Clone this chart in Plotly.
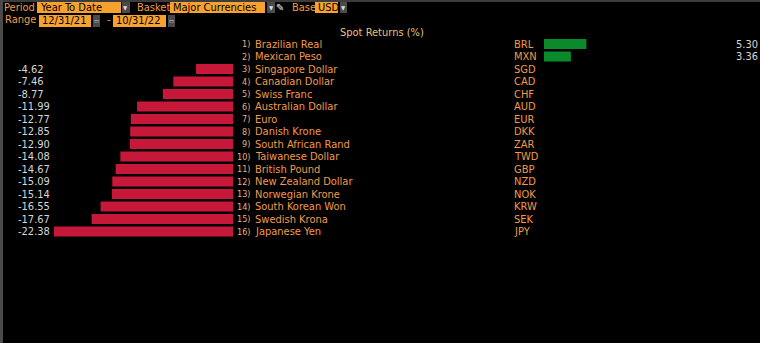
import plotly.graph_objects as go

# Year-to-date spot returns vs USD (%), ranked
ranks = list(range(1, 17))
names = ["Brazilian Real", "Mexican Peso", "Singapore Dollar", "Canadian Dollar",
         "Swiss Franc", "Australian Dollar", "Euro", "Danish Krone",
         "South African Rand", "Taiwanese Dollar", "British Pound",
         "New Zealand Dollar", "Norwegian Krone", "South Korean Won",
         "Swedish Krona", "Japanese Yen"]
codes = ["BRL", "MXN", "SGD", "CAD", "CHF", "AUD", "EUR", "DKK",
         "ZAR", "TWD", "GBP", "NZD", "NOK", "KRW", "SEK", "JPY"]
returns = [5.30, 3.36, -4.62, -7.46, -8.77, -11.99, -12.77, -12.85,
           -12.90, -14.08, -14.67, -15.09, -15.14, -16.55, -17.67, -22.38]

W, H = 760, 343
ORANGE = "#f29a48"
AMBER = "#f7a12f"
RED = "#c8183a"
GREEN = "#0b8a2c"
FONT = "Liberation Sans Narrow, DejaVu Sans Condensed, Arial Narrow, sans-serif"

PX_PER_UNIT = 8.0      # horizontal scale shared by both bar panels
NEG_ZERO = 233         # pixel column of the zero line for losses
POS_ZERO = 544         # pixel column of the zero line for gains
ROW0, ROW_STEP = 44, 12.5


def px(x):
    return x / W


def py(y):
    return 1 - y / H


neg_r = [r for r, v in zip(ranks, returns) if v < 0]
neg_v = [v for v in returns if v < 0]
pos_r = [r for r, v in zip(ranks, returns) if v >= 0]
pos_v = [v for v in returns if v >= 0]

fig = go.Figure()
fig.add_trace(go.Bar(x=neg_v, y=neg_r, orientation="h", width=0.8,
                     marker=dict(color=RED, line=dict(width=0)),
                     xaxis="x", yaxis="y", hoverinfo="skip"))
fig.add_trace(go.Bar(x=pos_v, y=pos_r, orientation="h", width=0.8,
                     marker=dict(color=GREEN, line=dict(width=0)),
                     xaxis="x2", yaxis="y", hoverinfo="skip"))

ann = []
row_font = dict(family=FONT, size=11, color=ORANGE)
for r, n, c, v in zip(ranks, names, codes, returns):
    ann.append(dict(x=px(252), y=r, xref="paper", yref="y", text=f"{r})",
                    xanchor="right", yanchor="middle", showarrow=False,
                    font=dict(family=FONT, size=9, color="#e0b080")))
    ann.append(dict(x=px(253), y=r, xref="paper", yref="y", text=n,
                    xanchor="left", yanchor="middle", showarrow=False, font=row_font))
    ann.append(dict(x=px(512), y=r, xref="paper", yref="y", text=c,
                    xanchor="left", yanchor="middle", showarrow=False, font=row_font))
    if v < 0:
        vx, anchor = px(16), "left"
    else:
        vx, anchor = px(760), "right"
    ann.append(dict(x=vx, y=r, xref="paper", yref="y", text=f"{v:.2f}",
                    xanchor=anchor, yanchor="middle", showarrow=False,
                    font=dict(family=FONT, size=11, color="#d6d6d6")))

ann.append(dict(x=px(382), y=py(32), xref="paper", yref="paper",
                text="Spot Returns (%)", xanchor="center", yanchor="middle",
                showarrow=False, font=dict(family=FONT, size=11, color="#e9c27a")))

# Header controls
shapes = []
hdr_font = dict(family=FONT, size=11, color=ORANGE)
box_font = dict(family=FONT, size=11, color="#000000")


def label(x, y, t):
    ann.append(dict(x=px(x), y=py(y), xref="paper", yref="paper", text=t,
                    xanchor="left", yanchor="middle", showarrow=False, font=hdr_font))


def field(x0, x1, y0, y1, t):
    shapes.append(dict(type="rect", xref="paper", yref="paper", x0=px(x0), x1=px(x1),
                       y0=py(y1), y1=py(y0), fillcolor=AMBER, line=dict(width=0), layer="below"))
    ann.append(dict(x=px(x0 + 1), y=py((y0 + y1) / 2), xref="paper", yref="paper", text=t,
                    xanchor="left", yanchor="middle", showarrow=False, font=box_font))


def button(x0, x1, y0, y1, t):
    shapes.append(dict(type="rect", xref="paper", yref="paper", x0=px(x0), x1=px(x1),
                       y0=py(y1), y1=py(y0), fillcolor="#4a4a4a", line=dict(width=0), layer="below"))
    ann.append(dict(x=px((x0 + x1) / 2), y=py((y0 + y1) / 2), xref="paper", yref="paper", text=t,
                    xanchor="center", yanchor="middle", showarrow=False,
                    font=dict(family=FONT, size=6, color="#dddddd")))


label(2, 7, "Period")
field(37, 121, 1, 13, "Year To Date")
button(122, 130, 1, 13, "▼")
label(135, 7, "Basket")
field(170, 265, 1, 13, "Major Currencies")
button(267, 275, 1, 13, "▼")
ann.append(dict(x=px(280), y=py(7), xref="paper", yref="paper", text="✎",
                xanchor="center", yanchor="middle", showarrow=False,
                font=dict(family="DejaVu Sans", size=10, color="#e8e8e8")))
label(290, 7, "Base")
field(315, 338, 1, 13, "USD")
button(340, 347, 1, 13, "▼")

label(3, 20, "Range")
field(39, 91, 15, 27, "12/31/21")
button(93, 100, 15, 27, "▭")
label(105, 20, "-")
field(113, 166, 15, 27, "10/31/22")
button(168, 175, 15, 27, "▭")

# Window frame edges
shapes.append(dict(type="rect", xref="paper", yref="paper", x0=0, x1=1,
                   y0=py(2), y1=1, fillcolor="#3c3c3c", line=dict(width=0), layer="below"))
shapes.append(dict(type="rect", xref="paper", yref="paper", x0=0, x1=px(3),
                   y0=0, y1=1, fillcolor="#4a4a4a", line=dict(width=0), layer="below"))

y_top = 1 - ROW0 / ROW_STEP
y_bot = 1 + (H - ROW0) / ROW_STEP

fig.update_layout(
    width=W, height=H, margin=dict(l=0, r=0, t=0, b=0),
    paper_bgcolor="#000000", plot_bgcolor="rgba(0,0,0,0)",
    showlegend=False, barmode="overlay",
    xaxis=dict(domain=[0, px(NEG_ZERO)], range=[-NEG_ZERO / PX_PER_UNIT, 0],
               visible=False, fixedrange=True),
    xaxis2=dict(domain=[px(POS_ZERO), 1], range=[0, (W - POS_ZERO) / PX_PER_UNIT],
                visible=False, fixedrange=True, anchor="y"),
    yaxis=dict(range=[y_bot, y_top], visible=False, fixedrange=True),
    annotations=ann, shapes=shapes,
)

fig.write_html("out.html")
